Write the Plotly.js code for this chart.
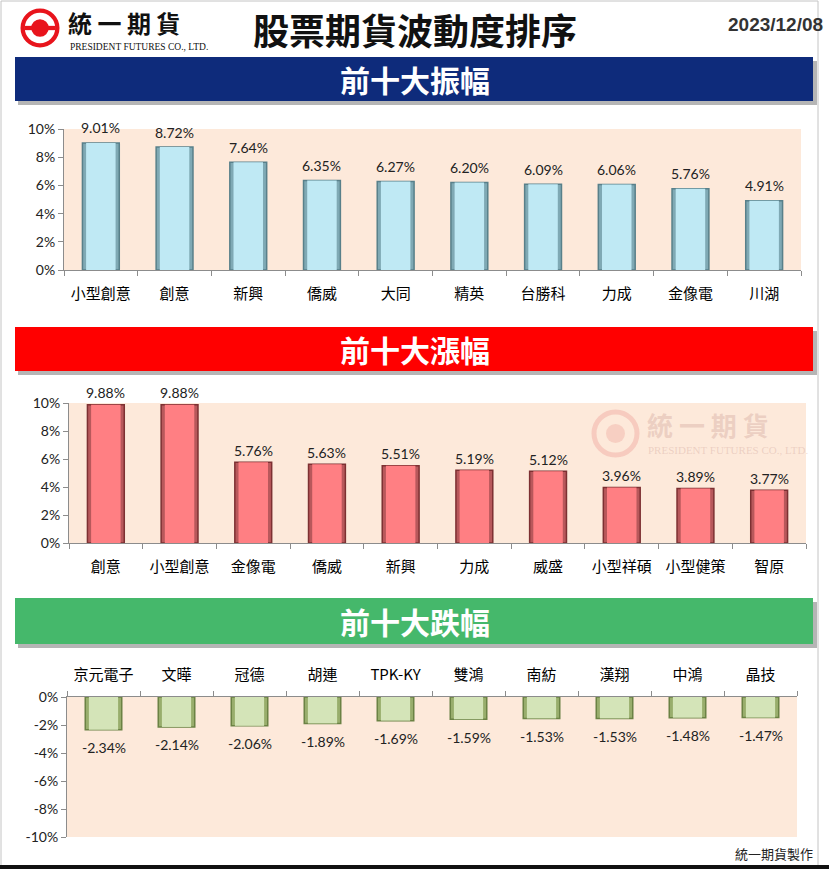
<!DOCTYPE html>
<html>
<head>
<meta charset="utf-8">
<script src="https://cdn.plot.ly/plotly-3.0.1.min.js"></script>
<style>
html,body{margin:0;padding:0;background:#fff;}
#chart{width:829px;height:869px;}
</style>
</head>
<body>
<div id="chart"></div>
<script>
// ---- data ----
const ampCats = ['小型創意','創意','新興','僑威','大同','精英','台勝科','力成','金像電','川湖'];
const ampVals = [9.01, 8.72, 7.64, 6.35, 6.27, 6.20, 6.09, 6.06, 5.76, 4.91];
const upCats = ['創意','小型創意','金像電','僑威','新興','力成','威盛','小型祥碩','小型健策','智原'];
const upVals = [9.88, 9.88, 5.76, 5.63, 5.51, 5.19, 5.12, 3.96, 3.89, 3.77];
const downCats = ['京元電子','文曄','冠德','胡連','TPK-KY','雙鴻','南紡','漢翔','中鴻','晶技'];
const downVals = [-2.34, -2.14, -2.06, -1.89, -1.69, -1.59, -1.53, -1.53, -1.48, -1.47];
const posTicks = [0, 2, 4, 6, 8, 10];
const negTicks = [0, -2, -4, -6, -8, -10];

const W = 829, H = 869;
const px = x => x / W;
const py = y => 1 - y / H;
const pct = v => v.toFixed(2) + '%';
const tickTxt = v => v + '%';

const CJK = '"Noto Sans CJK TC", "Noto Sans CJK SC", sans-serif';
const LAT = 'Lato, "Open Sans", sans-serif';

// bevel-like bars: darker outer bar + lighter inner bar
function barPair(cats, vals, xa, ya, light, mid, edge) {
  return [
    {type:'bar', x:cats, y:vals, xaxis:xa, yaxis:ya, width:0.5,
     marker:{color:mid, line:{color:edge, width:1.5}}, hoverinfo:'x+y', showlegend:false},
    {type:'bar', x:cats, y:vals, xaxis:xa, yaxis:ya, width:0.4,
     marker:{color:light, line:{width:0}}, hoverinfo:'skip', showlegend:false}
  ];
}

const data = [].concat(
  barPair(ampCats, ampVals, 'x', 'y', '#bfe9f4', '#7fa9b4', '#58808a'),
  barPair(upCats, upVals, 'x2', 'y2', '#ff7f83', '#b8585b', '#7d3032'),
  barPair(downCats, downVals, 'x3', 'y3', '#d4e4b8', '#98ad6c', '#6b8244')
);

function xAxis(domain, anchor, side) {
  return {
    domain: domain, anchor: anchor, side: side || 'bottom', type: 'category',
    showline: true, linecolor: '#8c8c8c', linewidth: 1,
    ticks: 'outside', tickson: 'boundaries', ticklen: 5, tickcolor: '#8c8c8c',
    ticklabelstandoff: 10,
    tickfont: {family: CJK, size: 15, color: '#000'},
    showgrid: false, zeroline: false, fixedrange: true
  };
}
function yAxis(domain, anchor, range, ticks) {
  return {
    domain: domain, anchor: anchor, range: range,
    tickvals: ticks, ticktext: ticks.map(tickTxt),
    showline: true, linecolor: '#8c8c8c', linewidth: 1,
    ticks: 'outside', ticklen: 5, tickcolor: '#8c8c8c',
    tickfont: {family: LAT, size: 14, color: '#222'},
    showgrid: false, zeroline: false, fixedrange: true
  };
}

const shapes = [];
const annotations = [];

// value labels (through the axes)
function valueLabels(cats, vals, xa, ya, shift) {
  cats.forEach((c, i) => {
    annotations.push({xref:xa, yref:ya, x:c, y:vals[i], text:pct(vals[i]), showarrow:false,
      xanchor:'center', yanchor:'middle', yshift:shift,
      font:{family:LAT, size:14, color:'#222'}});
  });
}
valueLabels(ampCats, ampVals, 'x', 'y', 15);
valueLabels(upCats, upVals, 'x2', 'y2', 12);
valueLabels(downCats, downVals, 'x3', 'y3', -18);

// outer frame
shapes.push({type:'rect', xref:'paper', yref:'paper', x0:px(1), x1:px(818), y0:py(866), y1:py(1),
  line:{color:'#c4c4c4', width:1}, fillcolor:'rgba(0,0,0,0)', layer:'below'});
shapes.push({type:'rect', xref:'paper', yref:'paper', x0:0, x1:1, y0:py(869), y1:py(865),
  line:{width:0}, fillcolor:'#111', layer:'above'});

// banners
function banner(y0, y1, color, label) {
  shapes.push({type:'rect', xref:'paper', yref:'paper', x0:px(18), x1:px(817), y0:py(y1+4), y1:py(y0+4),
    line:{width:0}, fillcolor:'rgba(90,90,90,0.45)', layer:'below'});
  shapes.push({type:'rect', xref:'paper', yref:'paper', x0:px(15), x1:px(813), y0:py(y1), y1:py(y0),
    line:{width:0}, fillcolor:color, layer:'below'});
  annotations.push({xref:'paper', yref:'paper', x:px(415), y:py((y0+y1)/2), text:label, showarrow:false,
    xanchor:'center', yanchor:'middle', font:{family:CJK, size:30, color:'#fff', weight:'bold'}});
}
banner(57, 101, '#0e2b7b', '前十大振幅');
banner(327, 371, '#ff0000', '前十大漲幅');
banner(598, 644, '#45b86b', '前十大跌幅');

// logo
function logo(cx, cy, r, red, white) {
  shapes.push({type:'circle', xref:'paper', yref:'paper', x0:px(cx-r), x1:px(cx+r), y0:py(cy+r), y1:py(cy-r),
    line:{width:0}, fillcolor:red, layer:'above'});
  const r2 = r*0.78;
  shapes.push({type:'circle', xref:'paper', yref:'paper', x0:px(cx-r2), x1:px(cx+r2), y0:py(cy+r2), y1:py(cy-r2),
    line:{width:0}, fillcolor:white, layer:'above'});
  const r3 = r*0.45;
  shapes.push({type:'circle', xref:'paper', yref:'paper', x0:px(cx-r3), x1:px(cx+r3), y0:py(cy+r3), y1:py(cy-r3),
    line:{width:0}, fillcolor:red, layer:'above'});
  const h = r*0.11;
  shapes.push({type:'rect', xref:'paper', yref:'paper', x0:px(cx-r2-0.5), x1:px(cx+r2+0.5), y0:py(cy+h), y1:py(cy-h),
    line:{width:0}, fillcolor:red, layer:'above'});
}
logo(40, 28, 19.5, '#e8141c', '#ffffff');
annotations.push({xref:'paper', yref:'paper', x:px(66), y:py(22), text:'統 一 期 貨', showarrow:false,
  xanchor:'left', yanchor:'middle', font:{family:CJK, size:24, color:'#111', weight:'bold'}});
annotations.push({xref:'paper', yref:'paper', x:px(68), y:py(47), text:'PRESIDENT FUTURES CO., LTD.', showarrow:false,
  xanchor:'left', yanchor:'middle', font:{family:'"Liberation Serif", serif', size:9.5, color:'#111'}});

// title & date
annotations.push({xref:'paper', yref:'paper', x:px(415), y:py(29), text:'股票期貨波動度排序', showarrow:false,
  xanchor:'center', yanchor:'middle', font:{family:CJK, size:36, color:'#111', weight:'bold'}});
annotations.push({xref:'paper', yref:'paper', x:px(825), y:py(25), text:'2023/12/08', showarrow:false,
  xanchor:'right', yanchor:'middle', font:{family:'"Liberation Sans", Arial, sans-serif', size:19, color:'#333', weight:'bold'}});

// watermark in chart 2
shapes.push({type:'circle', xref:'paper', yref:'paper', x0:px(594), x1:px(637), y0:py(455), y1:py(412),
  line:{color:'rgba(235,150,140,0.35)', width:5}, fillcolor:'rgba(0,0,0,0)', layer:'below'});
shapes.push({type:'circle', xref:'paper', yref:'paper', x0:px(606), x1:px(625), y0:py(443), y1:py(424),
  line:{width:0}, fillcolor:'rgba(235,150,140,0.30)', layer:'below'});
annotations.push({xref:'paper', yref:'paper', x:px(645), y:py(425), text:'統 一 期 貨', showarrow:false,
  xanchor:'left', yanchor:'middle', font:{family:CJK, size:26, color:'rgba(215,175,165,0.45)', weight:'bold'}});
annotations.push({xref:'paper', yref:'paper', x:px(646), y:py(450), text:'PRESIDENT FUTURES CO., LTD.', showarrow:false,
  xanchor:'left', yanchor:'middle', font:{family:'"Liberation Serif", serif', size:11, color:'rgba(215,175,165,0.45)'}});

// footer
annotations.push({xref:'paper', yref:'paper', x:px(815), y:py(853), text:'統一期貨製作', showarrow:false,
  xanchor:'right', yanchor:'middle', font:{family:CJK, size:13, color:'#222'}});

const layout = {
  width: W, height: H,
  margin: {l:0, r:0, t:0, b:0},
  paper_bgcolor: '#ffffff', plot_bgcolor: '#fde9da',
  barmode: 'overlay', showlegend: false,
  xaxis: xAxis([px(64), px(801)], 'y'),
  yaxis: yAxis([py(270), py(129)], 'x', [0, 10], posTicks),
  xaxis2: xAxis([px(69), px(806)], 'y2'),
  yaxis2: yAxis([py(543), py(403)], 'x2', [0, 10], posTicks),
  xaxis3: xAxis([px(67), px(797)], 'y3', 'top'),
  yaxis3: yAxis([py(837), py(697)], 'x3', [-10, 0], negTicks),
  shapes: shapes, annotations: annotations
};

Plotly.newPlot('chart', data, layout, {displayModeBar:false, staticPlot:true});
</script>
</body>
</html>
